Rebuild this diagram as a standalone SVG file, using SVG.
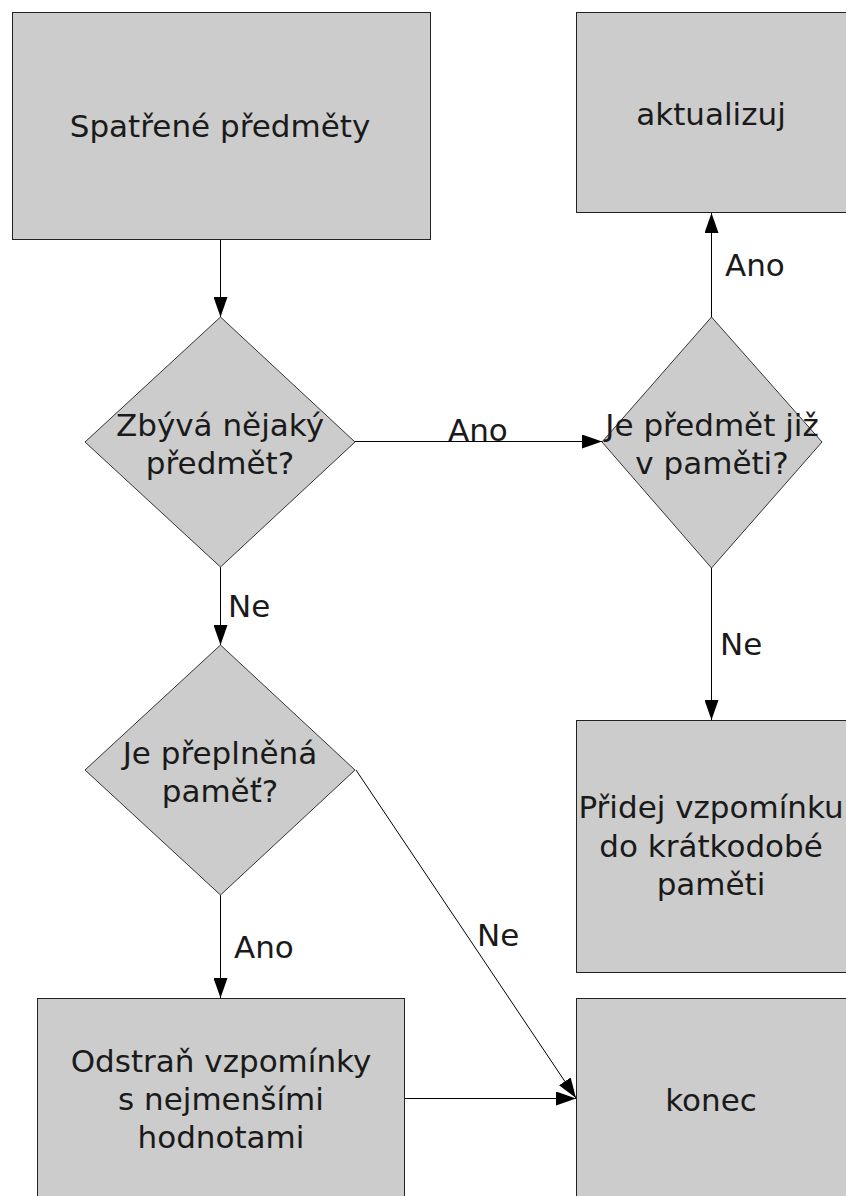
<svg xmlns="http://www.w3.org/2000/svg" width="846" height="1196" viewBox="0 0 846 1196">
<style>
.box{fill:#cccccc;stroke:#222;stroke-width:1}
.dia{fill:#cccccc;stroke:#333;stroke-width:1}
.t{font-family:"DejaVu Sans","Liberation Sans",sans-serif;font-size:31px;fill:#1a1a1a;text-anchor:middle}
.lbl{font-family:"DejaVu Sans","Liberation Sans",sans-serif;font-size:31px;fill:#1a1a1a}
.c{stroke:#000;stroke-width:1;fill:none;marker-end:url(#ah)}
</style>
<defs>
<marker id="ah" markerUnits="userSpaceOnUse" markerWidth="20" markerHeight="14" refX="20" refY="7" orient="auto">
<path d="M0,0 L20,7 L0,14 z" fill="#000"/>
</marker>
</defs>
<rect width="846" height="1196" fill="#fff"/>
<g id="connectors">
<line class="c" x1="220.5" y1="240" x2="220.5" y2="317"/>
<line class="c" x1="711.5" y1="317" x2="711.5" y2="213"/>
<line class="c" x1="355" y1="441.5" x2="602" y2="441.5"/>
<line class="c" x1="711.5" y1="568" x2="711.5" y2="720"/>
<line class="c" x1="220.5" y1="567" x2="220.5" y2="645"/>
<line class="c" x1="220.5" y1="895" x2="220.5" y2="998"/>
<line class="c" x1="356" y1="770" x2="576" y2="1098"/>
<line class="c" x1="405" y1="1098.5" x2="576" y2="1098.5"/>
<text class="lbl" x="725" y="276">Ano</text>
<text class="lbl" x="448" y="441">Ano</text>
<text class="lbl" x="720" y="655">Ne</text>
<text class="lbl" x="228" y="617">Ne</text>
<text class="lbl" x="234" y="958">Ano</text>
<text class="lbl" x="477" y="946">Ne</text>
</g>
<g id="spatrene">
<rect class="box" x="12.5" y="12.5" width="418" height="227"/>
<text class="t" x="220" y="137">Spatřené předměty</text>
</g>
<g id="aktualizuj">
<rect class="box" x="576.5" y="12.5" width="272" height="200"/>
<text class="t" x="711" y="125">aktualizuj</text>
</g>
<g id="zbyva">
<polygon class="dia" points="220.5,317 355,442 220.5,567 85,442"/>
<text class="t" x="220" y="436">Zbývá nějaký</text>
<text class="t" x="220" y="474">předmět?</text>
</g>
<g id="jepredmet">
<polygon class="dia" points="711.5,317 822,442 711.5,568 602,442"/>
<text class="t" x="712" y="436">Je předmět již</text>
<text class="t" x="712" y="474">v paměti?</text>
</g>
<g id="preplnena">
<polygon class="dia" points="220.5,645 355,770 220.5,895 85,770"/>
<text class="t" x="220" y="764">Je přeplněná</text>
<text class="t" x="220" y="802">paměť?</text>
</g>
<g id="pridej">
<rect class="box" x="576.5" y="720.5" width="272" height="252"/>
<text class="t" x="711" y="818">Přidej vzpomínku</text>
<text class="t" x="711" y="857">do krátkodobé</text>
<text class="t" x="711" y="895">paměti</text>
</g>
<g id="odstran">
<rect class="box" x="37.5" y="998.5" width="367" height="210"/>
<text class="t" x="221" y="1072">Odstraň vzpomínky</text>
<text class="t" x="221" y="1110">s nejmenšími</text>
<text class="t" x="221" y="1148">hodnotami</text>
</g>
<g id="konec">
<rect class="box" x="576.5" y="998.5" width="272" height="210"/>
<text class="t" x="711" y="1111">konec</text>
</g>
</svg>
